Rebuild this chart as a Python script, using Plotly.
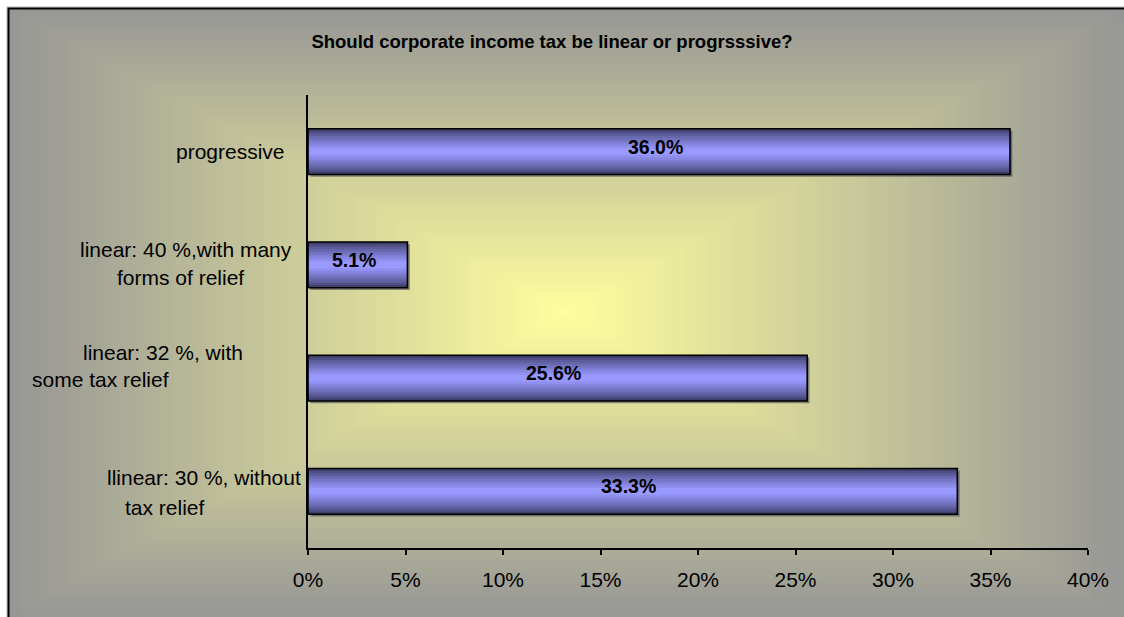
import base64
import plotly.graph_objects as go

# Survey answers, bottom to top as drawn on the category axis
label_lines = [
    ["llinear: 30 %, without", "tax relief"],
    ["linear: 32 %, with", "some tax relief"],
    ["linear: 40 %,with many", "forms of relief"],
    ["progressive"],
]
categories = [" ".join(lines) for lines in label_lines]
shares = [33.3, 25.6, 5.1, 36.0]
x_ticks = [0, 5, 10, 15, 20, 25, 30, 35, 40]
x_tick_text = [f"{v}%" for v in x_ticks]
title_text = "Should corporate income tax be linear or progrsssive?"

W, H = 1124, 617
M_L, M_R, M_T, M_B = 308, 36, 95, 69
PW, PH = W - M_L - M_R, H - M_T - M_B
FONT = "Liberation Sans, Arial, sans-serif"

# the background picture runs a little past the right and bottom edges
BG_W, BG_H = W + 24, H + 24


def px_x(px):
    return (px - M_L) / PW


def px_y(py):
    return 1 - (py - M_T) / PH


def chart_background():
    """Grey-to-yellow 'from centre' fill with a black frame, as an SVG."""
    cx, cy, a, b = 566, 312, 560, 306
    c0, c1 = (255, 255, 158), (150, 150, 150)
    steps = 80
    parts = [f'<svg xmlns="http://www.w3.org/2000/svg" width="{BG_W}" height="{BG_H}" '
             f'viewBox="0 0 {BG_W} {BG_H}" preserveAspectRatio="none">',
             f'<rect x="0" y="0" width="{BG_W}" height="{BG_H}" fill="white"/>',
             f'<rect x="8" y="8" width="{BG_W - 8}" height="{BG_H - 8}" fill="rgb{c1}"/>']
    for i in range(steps, 0, -1):
        t = i / steps
        col = "rgb({},{},{})".format(*(round(c0[j] + (c1[j] - c0[j]) * t) for j in range(3)))
        hw, hh = a * t, b * t
        x0, y0 = max(cx - hw, 8), max(cy - hh, 8)
        x1, y1 = min(cx + hw, BG_W), min(cy + hh, BG_H)
        parts.append(f'<rect x="{x0:.1f}" y="{y0:.1f}" width="{x1 - x0:.1f}" '
                     f'height="{y1 - y0:.1f}" fill="{col}"/>')
    parts.append(f'<path d="M7 {BG_H} V7 H{BG_W}" fill="none" stroke="#aaaaaa" stroke-width="1"/>')
    parts.append(f'<path d="M8.5 {BG_H} V8.5 H{BG_W}" fill="none" stroke="black" stroke-width="2"/>')
    parts.append('</svg>')
    svg = "".join(parts)
    return "data:image/svg+xml;base64," + base64.b64encode(svg.encode()).decode()


fig = go.Figure()

BAR_W = 0.405

# soft drop shadow under each bar
fig.add_trace(go.Bar(
    y=categories, x=shares, orientation="h", base=0.12,
    width=BAR_W, offset=-BAR_W / 2 - 0.02,
    marker=dict(color="rgba(60,60,80,0.55)", line=dict(width=0)),
    hoverinfo="skip", showlegend=False,
))

# horizontal banding: dark edges, light blue-violet core
n_bands = 9
dark, light = (62, 62, 106), (153, 153, 255)
for k in range(n_bands):
    t = k / (n_bands - 1)
    frac = 1 - t * 0.85
    col = "rgb({},{},{})".format(*(round(dark[j] + (light[j] - dark[j]) * t ** 0.8) for j in range(3)))
    fig.add_trace(go.Bar(
        y=categories, x=shares, orientation="h",
        width=BAR_W * frac,
        marker=dict(color=col, line=dict(width=0)),
        hoverinfo="skip", showlegend=False,
    ))

# outline on top
fig.add_trace(go.Bar(
    y=categories, x=shares, orientation="h", width=BAR_W,
    marker=dict(color="rgba(0,0,0,0)", line=dict(color="black", width=1.6)),
    hovertemplate="%{y}: %{x:.1f}%<extra></extra>", showlegend=False,
))

annotations = []

# value labels in the middle of each bar
for cat, v in zip(categories, shares):
    annotations.append(dict(
        x=v / 2, y=cat, xref="x", yref="y", text=f"<b>{v:.1f}%</b>",
        showarrow=False, xanchor="center", yanchor="middle", yshift=5, xshift=-4,
        font=dict(family=FONT, size=19.5, color="black"),
    ))

# category labels, one annotation per wrapped line (centre x in px, shift in px)
line_places = [
    [(203.5, 14), (165, -16)],
    [(162.5, 25.5), (100, -1.5)],
    [(185.5, 15), (180.5, -13)],
    [(230.5, 0)],
]
for cat, lines, places in zip(categories, label_lines, line_places):
    for text, (px, dy) in zip(lines, places):
        annotations.append(dict(
            x=px_x(px), y=cat, xref="paper", yref="y", text=text,
            showarrow=False, xanchor="center", yanchor="middle", yshift=dy,
            font=dict(family=FONT, size=21, color="black"),
        ))

# plain grey strips along the open right and bottom sides of the chart area
edge_grey = "rgb(152,152,151)"
edge_shapes = [
    dict(type="rect", xref="paper", yref="paper", layer="below",
         x0=px_x(1114), x1=px_x(1130), y0=px_y(625), y1=px_y(20),
         fillcolor=edge_grey, line=dict(width=0)),
    dict(type="rect", xref="paper", yref="paper", layer="below",
         x0=px_x(20), x1=px_x(1130), y0=px_y(625), y1=px_y(609),
         fillcolor=edge_grey, line=dict(width=0)),
]

fig.update_layout(
    width=W, height=H,
    margin=dict(l=M_L, r=M_R, t=M_T, b=M_B, pad=0),
    barmode="overlay",
    paper_bgcolor="white",
    plot_bgcolor="rgba(0,0,0,0)",
    font=dict(family=FONT, size=21, color="black"),
    title=dict(
        text=f"<b>{title_text}</b>", xref="container", yref="container",
        x=552 / W, y=1 - 42 / H, xanchor="center", yanchor="middle",
        font=dict(family=FONT, size=18.5, color="black"),
    ),
    xaxis=dict(
        range=[0, 40], tickvals=x_ticks, ticktext=x_tick_text,
        showgrid=False, zeroline=False,
        showline=True, linecolor="black", linewidth=2,
        ticks="outside", ticklen=5, tickwidth=2, tickcolor="black",
        ticklabelstandoff=7,
        tickfont=dict(family=FONT, size=21, color="black"),
        fixedrange=True,
    ),
    yaxis=dict(
        type="category", categoryorder="array", categoryarray=categories,
        range=[-0.5, 3.5], showticklabels=False, ticks="",
        showgrid=False, zeroline=False,
        showline=True, linecolor="black", linewidth=2,
        fixedrange=True,
    ),
    annotations=annotations,
    shapes=edge_shapes,
    images=[dict(
        source=chart_background(), xref="paper", yref="paper",
        x=-M_L / PW, y=1 + M_T / PH, sizex=BG_W / PW, sizey=BG_H / PH,
        xanchor="left", yanchor="top", sizing="stretch", layer="below",
    )],
    showlegend=False,
)

fig.write_html("out.html")
